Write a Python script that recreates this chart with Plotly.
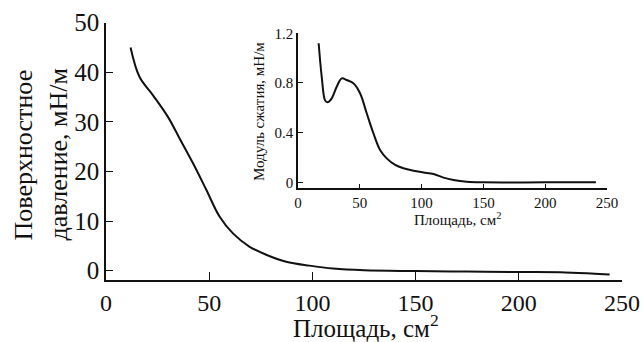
import plotly.graph_objects as go

# Main curve: surface pressure vs area
area_main = [11.9, 16.2, 22.7, 30.0, 35.6, 42.1, 48.6, 55.0, 61.5, 69.6, 77.6, 87.3, 98.6, 110, 125, 150, 175, 200, 220, 235, 244]
pressure = [45.0, 39.1, 35.4, 31.0, 26.7, 21.7, 16.3, 10.9, 7.5, 4.8, 3.2, 1.8, 1.0, 0.4, 0.05, -0.1, -0.2, -0.3, -0.35, -0.6, -0.8]

# Inset: compression modulus vs area
area_inset = [16.7, 19.2, 21.9, 23.8, 27.3, 31.3, 35.4, 39.4, 44.8, 50.2, 55.6, 61.0, 66.4, 71.8, 78.6, 85.3, 93.4, 101.5, 109.6, 117.7, 125.8, 136.6, 150, 200, 241]
modulus = [1.12, 0.85, 0.66, 0.644, 0.676, 0.77, 0.837, 0.824, 0.797, 0.717, 0.556, 0.395, 0.26, 0.193, 0.14, 0.113, 0.094, 0.08, 0.067, 0.038, 0.019, 0.005, 0.0, 0.0, 0.0]

main_xticks = [0, 50, 100, 150, 200, 250]
main_yticks = [0, 10, 20, 30, 40, 50]
inset_xticks = [0, 50, 100, 150, 200, 250]
inset_yticks = [0, 0.4, 0.8, 1.2]
inset_yticktext = ["0", "0.4", "0.8", "1.2"]

W, H = 643, 342
FONT = "Liberation Serif, Times New Roman, serif"
def px_x(p): return p / W
def px_y(p): return 1 - p / H

fig = go.Figure()
fig.add_trace(go.Scatter(x=area_main, y=pressure, mode="lines", line=dict(color="#111", width=2, shape="spline"),
                         xaxis="x", yaxis="y", showlegend=False))
fig.add_trace(go.Scatter(x=area_inset, y=modulus, mode="lines", line=dict(color="#111", width=2, shape="spline"),
                         xaxis="x2", yaxis="y2", showlegend=False))

axis_common = dict(showgrid=False, zeroline=False, showline=True, linecolor="#111", linewidth=1.5,
                   ticks="inside", tickcolor="#111", automargin=False)

fig.update_layout(
    width=W, height=H, margin=dict(l=0, r=0, t=0, b=0, autoexpand=False),
    paper_bgcolor="white", plot_bgcolor="rgba(0,0,0,0)",
    font=dict(family=FONT, color="#111"),
    xaxis=dict(**axis_common, domain=[px_x(106), px_x(622)], range=[0, 250], tickvals=main_xticks,
               ticklen=8, tickfont=dict(size=24, family=FONT), anchor="y"),
    yaxis=dict(**axis_common, domain=[px_y(280), px_y(22.7)], range=[-1.9, 50], tickvals=main_yticks,
               ticklen=7, tickfont=dict(size=25, family=FONT), anchor="x"),
    xaxis2=dict(**axis_common, domain=[px_x(298), px_x(607)], range=[0, 250], tickvals=inset_xticks,
                ticklen=5, tickfont=dict(size=15, family=FONT), anchor="y2"),
    yaxis2=dict(**axis_common, domain=[px_y(188.3), px_y(33.3)], range=[-0.048, 1.2], tickvals=inset_yticks,
                ticktext=inset_yticktext, ticklen=5, tickfont=dict(size=15, family=FONT), anchor="x2"),
)

ann = [
    dict(text="Площадь, см<sup>2</sup>", x=px_x(366), y=px_y(326), xanchor="center", yanchor="middle",
         font=dict(size=25, family=FONT)),
    dict(text="Поверхностное", x=px_x(23), y=px_y(243), xanchor="center", yanchor="bottom", textangle=-90,
         font=dict(size=26, family=FONT)),
    dict(text="давление, мН/м", x=px_x(58), y=px_y(243), xanchor="center", yanchor="bottom", textangle=-90,
         font=dict(size=26, family=FONT)),
    dict(text="Площадь, см<sup>2</sup>", x=px_x(457), y=px_y(219), xanchor="center", yanchor="middle",
         font=dict(size=15, family=FONT)),
    dict(text="Модуль сжатия, мН/м", x=px_x(259), y=px_y(112), xanchor="center", yanchor="middle", textangle=-90,
         font=dict(size=15, family=FONT)),
]
for a in ann:
    a.update(xref="paper", yref="paper", showarrow=False)
fig.update_layout(annotations=ann)

fig.write_html("out.html", config={"displayModeBar": False},
               post_script="document.body.style.margin='0';document.body.style.padding='0';")
